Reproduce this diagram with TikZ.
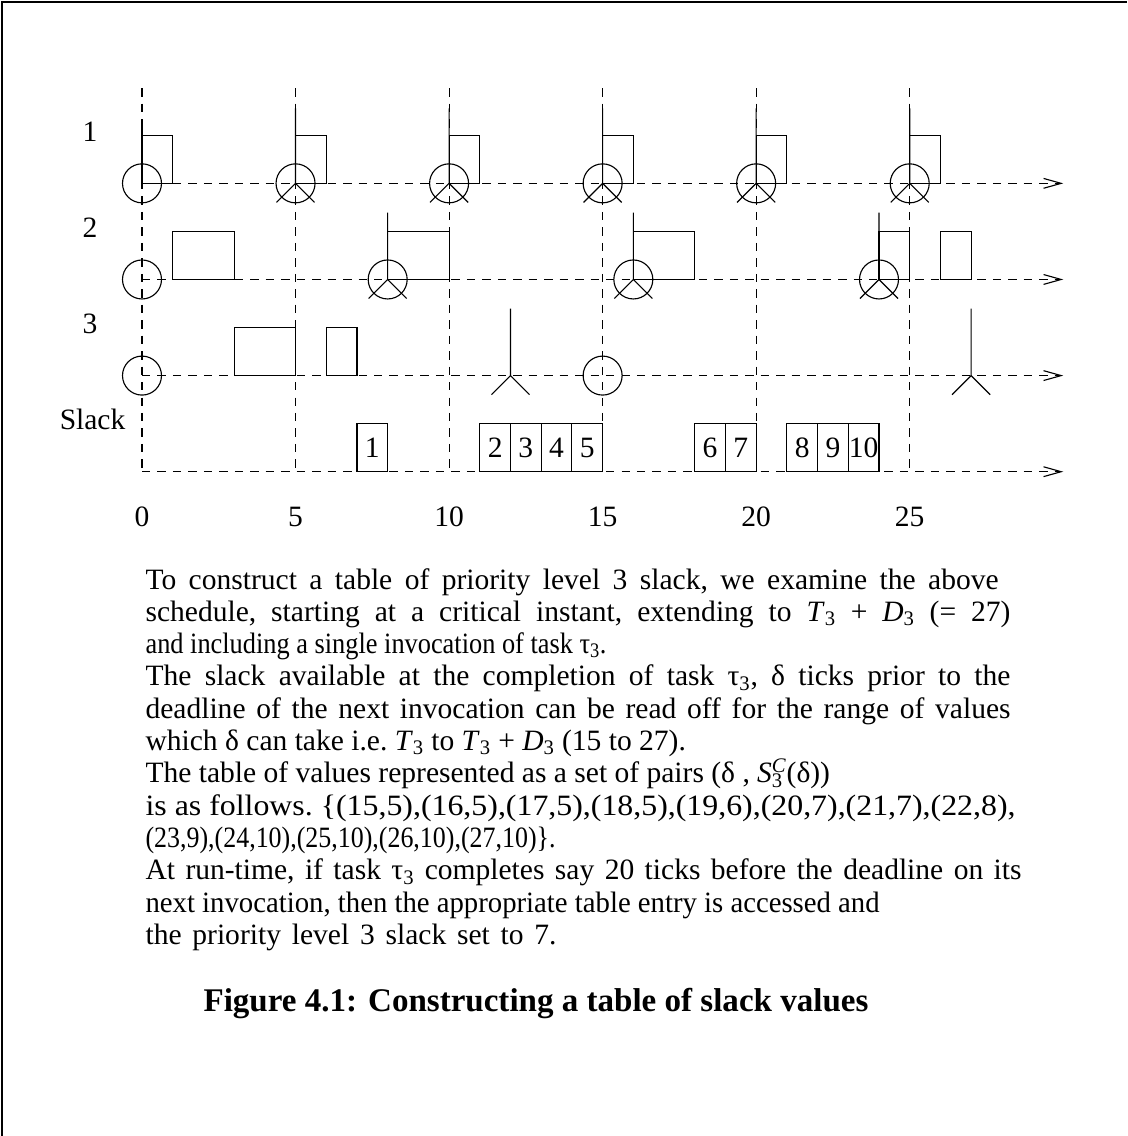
\documentclass[tikz,border=0pt]{standalone}
\usepackage{fontspec}
\usepackage{graphicx}
\setmainfont{Liberation Serif}
\usetikzlibrary{arrows.meta}

\newlength{\pxu}
\setlength{\pxu}{0.025cm}
\newcommand{\sub}[1]{\textsubscript{#1}}
% one line of the text, spread or squeezed to a given width in pixels
\newcommand{\fitline}[2]{\makebox[#1\pxu][s]{#2}}
\newcommand{\squeeze}[2]{\resizebox{#1\pxu}{\height}{#2}}

\tikzset{
  timeline/.style={dash pattern=on 6pt off 5pt},
  slackbox/.style={draw, minimum width=0.7675cm, minimum height=1.197cm,
                   inner sep=0pt, font=\fontsize{21}{25}\selectfont},
  rowlabel/.style={anchor=base, inner sep=0pt, font=\fontsize{21}{25}\selectfont},
  bodytext/.style={anchor=base west, inner sep=0pt,
                   font=\fontsize{21}{25}\selectfont\frenchspacing},
  release/.pic={\draw (0,0) circle (0.635);},
  deadline/.pic={\draw (-0.62,-0.62) -- (0,0) -- (0.62,-0.62) (0,0) -- (0,#1);},
}

\begin{document}
\begin{tikzpicture}[x=0.025cm, y=-0.025cm, line width=0.8pt]
\useasboundingbox (0,0) rectangle (1127,1136);
% frame of the page
\draw (2,1136) -- (2,2) -- (1127,2);

\begin{scope}[shift={(142,471.7)}, x=0.7675cm, y=0.7675cm]
  % time grid
  \foreach \t in {0,5,...,25} {
    \draw[timeline] (\t,12.49) -- (\t,0);
    \node[rowlabel] (tick\t) at (\t,-1.8) {\t};
  }
  \foreach \r in {9.39,6.26,3.13,0}
    \draw[timeline, -{Straight Barb[length=12.5pt,width=7pt]}] (0,\r) -- (30,\r);

  \node[rowlabel] (task1) at (-1.69,10.75) {1};
  \node[rowlabel] (task2) at (-1.69,7.62) {2};
  \node[rowlabel] (task3) at (-1.69,4.49) {3};
  \node[rowlabel] (slack) at (-1.61,1.36) {Slack};

  % task 1
  \foreach \t in {0,5,...,25} {
    \draw (\t,9.39) rectangle ++(1,1.55);
    \pic at (\t,9.39) {release};
  }
  \foreach \t in {5,10,...,25}
    \pic at (\t,9.39) {deadline=2.44};
  \draw (0,10.94) -- (0,11.23);

  % task 2
  \foreach \t in {0,8,16,24}
    \pic at (\t,6.26) {release};
  \foreach \t in {8,16,24}
    \pic at (\t,6.26) {deadline=2.18};
  \foreach \a/\b in {1/3,8/10,16/18,24/25,26/27}
    \draw (\a,6.26) rectangle (\b,7.81);

  % task 3
  \foreach \t in {0,15}
    \pic at (\t,3.13) {release};
  \foreach \t in {12,27}
    \pic at (\t,3.13) {deadline=2.18};
  \foreach \a/\b in {3/5,6/7}
    \draw (\a,3.13) rectangle (\b,4.69);

  % slack
  \foreach \x/\n in {7/1,11/2,12/3,13/4,14/5,18/6,19/7,21/8,22/9,23/10}
    \node[slackbox] (s\n) at (\x+0.5,0.78) {\n};
\end{scope}

% text below the schedule
\node[bodytext] (line1) at (145,589) {\fitline{853}{To construct a table of priority level 3 slack, we examine the above}};
\node[bodytext] (line2) at (145,621.3) {\fitline{865}{schedule, starting at a critical instant, extending to \textit{T}\sub{3} + \textit{D}\sub{3} (= 27)}};
\node[bodytext] (line3) at (145,653.6) {\squeeze{461}{and including a single invocation of task τ\sub{3}.}};
\node[bodytext] (line4) at (145,685.9) {\fitline{865}{The slack available at the completion of task τ\sub{3}, δ ticks prior to the}};
\node[bodytext] (line5) at (145,718.2) {\fitline{865}{deadline of the next invocation can be read off for the range of values}};
\node[bodytext] (line6) at (145,750.5) {which δ can take i.e. \textit{T}\sub{3} to \textit{T}\sub{3} + \textit{D}\sub{3} (15 to 27).};
\node[bodytext] (line7) at (145,782.8) {The table of values represented as a set of pairs (δ , \textit{S}\rlap{\sub{3}}\textsuperscript{\textit{C}}(δ))};
\node[bodytext] (line8) at (145,815.1) {\squeeze{870}{is as follows. \{(15,5),(16,5),(17,5),(18,5),(19,6),(20,7),(21,7),(22,8),}};
\node[bodytext] (line9) at (145,847.4) {\squeeze{410}{(23,9),(24,10),(25,10),(26,10),(27,10)\}.}};
\node[bodytext] (line10) at (145,879.7) {\fitline{876}{At run-time, if task τ\sub{3} completes say 20 ticks before the deadline on its}};
\node[bodytext] (line11) at (145,912) {\squeeze{734}{next invocation, then the appropriate table entry is accessed and}};
\node[bodytext] (line12) at (145,944.3) {\fitline{411}{the priority level 3 slack set to 7.}};

\node[anchor=base, inner sep=0pt, font=\fontsize{23.5}{28}\selectfont\bfseries]
  (caption) at (536,1011) {Figure 4.1: Constructing a table of slack values};
\end{tikzpicture}
\end{document}
